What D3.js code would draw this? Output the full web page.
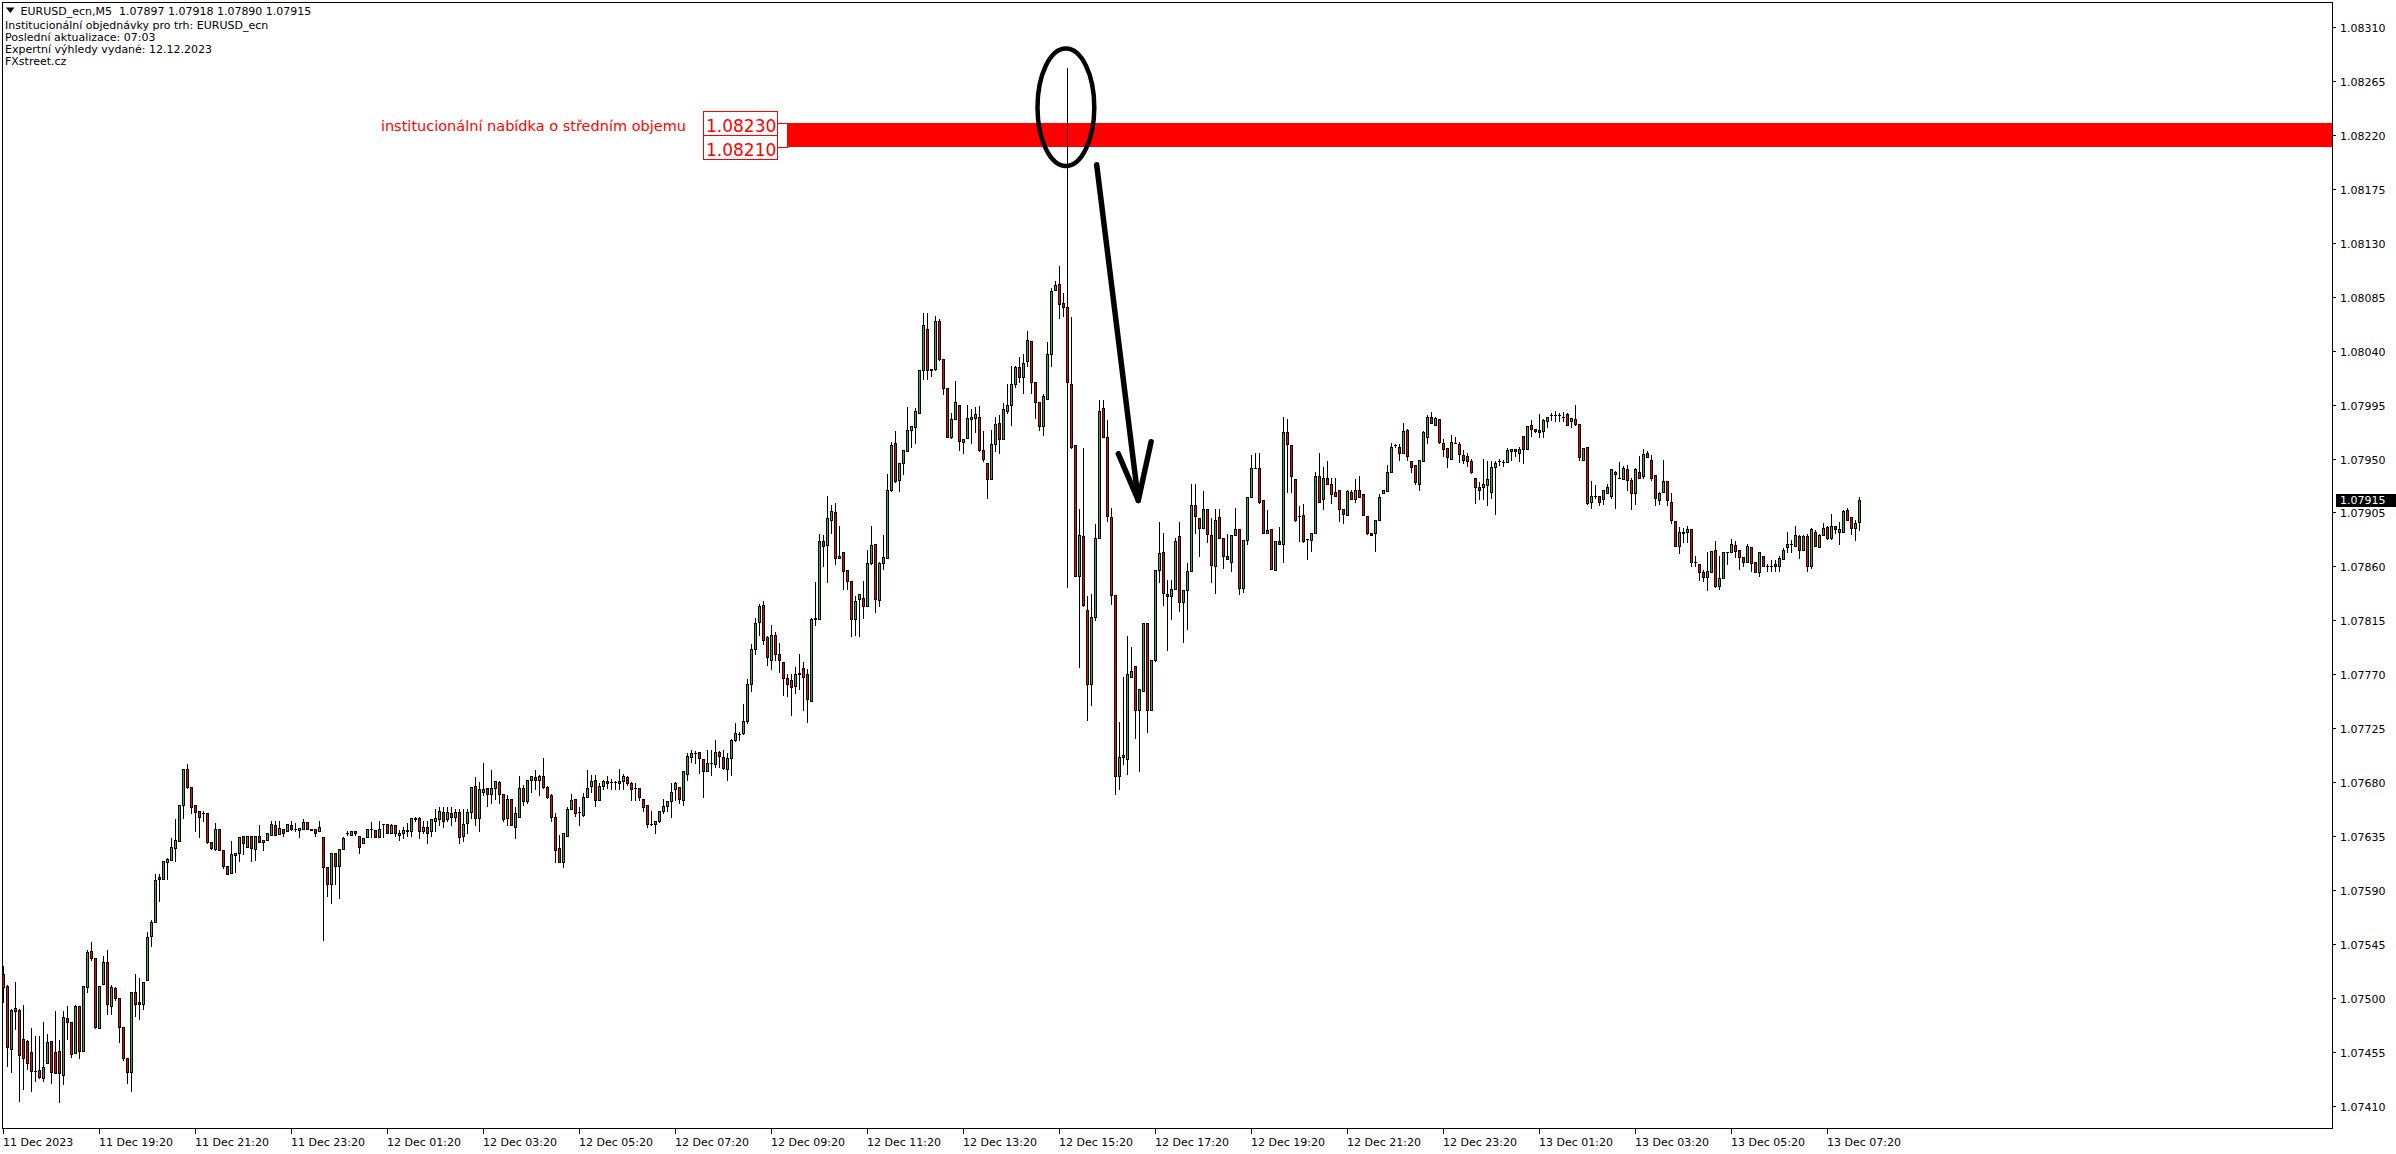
<!DOCTYPE html>
<html><head><meta charset="utf-8">
<script src="https://cdn.jsdelivr.net/npm/d3@7"></script>
<style>html,body{margin:0;padding:0;background:#fff;overflow:hidden}svg{display:block}</style>
</head><body>
<svg id="c" width="2396" height="1154"></svg>
<script>
// ---------------- DATA (EURUSD_ecn M5, 11 Dec 17:20 .. 13 Dec 08:00) ----------------
const opens = [
1.07520,1.07510,1.07457,1.07492,1.07490,1.07466,1.07464,1.07455,1.07439,1.07440,
1.07433,1.07446,1.07464,1.07455,1.07456,1.07436,1.07483,1.07480,1.07454,1.07493,
1.07456,1.07509,1.07539,1.07533,1.07475,1.07512,1.07530,1.07493,1.07508,1.07500,
1.07476,1.07450,1.07438,1.07505,1.07497,1.07495,1.07515,1.07552,1.07563,1.07601,
1.07599,1.07613,1.07615,1.07625,1.07631,1.07661,1.07691,1.07676,1.07661,1.07656,
1.07654,1.07654,1.07630,1.07624,1.07641,1.07623,1.07610,1.07604,1.07619,1.07621,
1.07635,1.07626,1.07635,1.07624,1.07635,1.07630,1.07632,1.07636,1.07644,1.07637,
1.07641,1.07639,1.07644,1.07641,1.07640,1.07641,1.07647,1.07641,1.07641,1.07639,
1.07634,1.07609,1.07595,1.07621,1.07610,1.07624,1.07638,1.07636,1.07639,1.07635,
1.07629,1.07634,1.07641,
1.07640,1.07634,1.07645,1.07645,1.07638,1.07644,1.07636,1.07638,1.07639,1.07639,
1.07650,1.07650,1.07639,1.07643,1.07639,1.07648,1.07649,1.07655,1.07649,1.07654,
1.07651,1.07655,1.07635,1.07646,1.07655,1.07677,1.07650,1.07672,1.07675,1.07670,
1.07675,1.07680,1.07670,1.07650,1.07666,1.07643,1.07651,1.07675,1.07664,1.07682,
1.07684,1.07682,1.07685,1.07676,1.07669,1.07651,1.07625,1.07613,1.07635,1.07658,
1.07666,1.07655,1.07653,1.07668,1.07677,1.07682,1.07665,1.07677,1.07681,1.07680,
1.07680,1.07679,1.07681,1.07684,1.07679,1.07675,1.07675,1.07666,1.07661,1.07645,
1.07645,1.07648,1.07656,1.07660,1.07664,1.07674,1.07676,1.07665,1.07687,1.07701,
1.07704,1.07705,1.07699,1.07689,1.07696,1.07695,1.07705,1.07701,1.07691,1.07700,
1.07715,1.07720,1.07721,1.07731,
1.07762,1.07791,1.07814,1.07828,1.07801,1.07782,1.07803,1.07787,1.07780,1.07767,
1.07765,1.07760,1.07770,1.07775,1.07770,1.07748,1.07816,1.07816,1.07881,1.07878,
1.07899,1.07905,1.07869,1.07872,1.07857,1.07848,1.07816,1.07833,1.07834,1.07827,
1.07863,1.07879,1.07832,1.07863,1.07867,1.07924,1.07963,1.07932,1.07946,1.07956,
1.07974,1.07976,1.07988,1.08024,1.08058,1.08024,1.08025,1.08065,1.08033,1.08009,
1.07968,1.07983,1.07995,1.07964,1.07967,1.07983,1.07984,1.07985,1.07957,1.07946,
1.07933,1.07962,1.07980,1.07966,1.07990,1.07995,1.08012,1.08026,1.08018,1.08031,
1.08048,1.08014,1.07997,1.07977,1.08000,1.08037,1.08091,1.08096,1.08080,1.08076,
1.08012,1.07961,1.07852,1.07885,1.07824,1.07762,1.07818,1.07884,1.07992,1.07968,
1.07901,1.07836,1.07685,1.07701,
1.07699,1.07768,1.07777,1.07740,1.07756,1.07813,1.07740,1.07782,1.07857,1.07872,
1.07837,1.07835,1.07841,1.07885,1.07830,1.07840,1.07856,1.07911,1.07900,1.07892,
1.07908,1.07886,1.07860,1.07901,1.07884,1.07869,1.07864,1.07886,1.07891,1.07842,
1.07882,1.07918,1.07942,1.07942,1.07915,1.07888,1.07891,1.07857,1.07881,1.07879,
1.07972,1.07961,1.07933,1.07902,1.07903,1.07883,1.07882,1.07888,1.07935,1.07916,
1.07934,1.07929,1.07922,1.07924,1.07908,1.07903,1.07922,1.07916,1.07924,1.07920,
1.07902,1.07888,1.07888,1.07899,1.07921,1.07923,1.07939,1.07961,1.07960,1.07955,
1.07974,1.07948,1.07945,1.07929,1.07948,1.07968,1.07985,1.07978,1.07983,1.07963,
1.07959,1.07950,1.07963,1.07962,1.07953,1.07952,1.07948,1.07934,1.07926,1.07926,
1.07928,1.07922,1.07943,
1.07948,1.07947,1.07947,1.07956,1.07958,1.07955,1.07969,1.07958,1.07978,1.07975,
1.07974,1.07973,1.07981,1.07986,1.07986,1.07986,1.07985,1.07987,1.07981,1.07983,
1.07979,1.07949,1.07960,1.07914,1.07919,1.07919,1.07916,1.07921,1.07919,1.07939,
1.07934,1.07933,1.07941,1.07932,1.07921,1.07939,1.07935,1.07955,1.07949,1.07936,
1.07915,1.07922,1.07931,1.07914,1.07898,1.07877,1.07889,1.07889,1.07891,1.07864,
1.07862,1.07855,1.07851,1.07855,1.07874,1.07844,1.07850,1.07872,1.07872,1.07878,
1.07874,1.07868,1.07864,1.07876,1.07864,1.07855,1.07869,1.07860,1.07860,1.07862,
1.07860,1.07866,1.07876,1.07879,1.07877,1.07885,1.07874,1.07885,1.07860,1.07889,
1.07876,1.07886,1.07893,1.07884,1.07894,1.07889,1.07889,1.07907,1.07901,1.07892,
1.07897];
const highs = [
1.07527,1.07511,1.07491,1.07513,1.07491,1.07494,1.07465,1.07475,1.07468,1.07468,
1.07480,1.07470,1.07464,1.07489,1.07465,1.07489,1.07493,1.07480,1.07494,1.07493,
1.07510,1.07540,1.07547,1.07533,1.07510,1.07535,1.07540,1.07511,1.07509,1.07500,
1.07476,1.07450,1.07505,1.07520,1.07517,1.07513,1.07555,1.07565,1.07603,1.07603,
1.07614,1.07617,1.07633,1.07649,1.07661,1.07691,1.07695,1.07676,1.07661,1.07656,
1.07656,1.07654,1.07630,1.07646,1.07641,1.07623,1.07610,1.07631,1.07621,1.07634,
1.07635,1.07635,1.07635,1.07635,1.07644,1.07632,1.07638,1.07648,1.07648,1.07648,
1.07641,1.07645,1.07648,1.07646,1.07642,1.07649,1.07647,1.07641,1.07641,1.07648,
1.07634,1.07609,1.07621,1.07621,1.07624,1.07634,1.07639,1.07639,1.07639,1.07635,
1.07633,1.07641,1.07647,
1.07640,1.07648,1.07645,1.07645,1.07645,1.07644,1.07640,1.07643,1.07646,1.07650,
1.07651,1.07651,1.07648,1.07648,1.07649,1.07658,1.07659,1.07659,1.07659,1.07659,
1.07658,1.07658,1.07658,1.07658,1.07676,1.07684,1.07680,1.07696,1.07675,1.07690,
1.07681,1.07681,1.07670,1.07669,1.07666,1.07659,1.07685,1.07678,1.07682,1.07685,
1.07690,1.07686,1.07700,1.07677,1.07670,1.07654,1.07636,1.07638,1.07659,1.07670,
1.07666,1.07659,1.07671,1.07690,1.07686,1.07686,1.07679,1.07682,1.07685,1.07683,
1.07681,1.07691,1.07687,1.07685,1.07680,1.07679,1.07675,1.07666,1.07661,1.07656,
1.07648,1.07656,1.07666,1.07664,1.07679,1.07680,1.07676,1.07689,1.07704,1.07707,
1.07706,1.07705,1.07699,1.07707,1.07707,1.07715,1.07706,1.07707,1.07704,1.07716,
1.07729,1.07722,1.07745,1.07766,
1.07795,1.07817,1.07829,1.07831,1.07802,1.07811,1.07805,1.07796,1.07780,1.07770,
1.07770,1.07776,1.07787,1.07780,1.07774,1.07817,1.07847,1.07887,1.07886,1.07919,
1.07911,1.07913,1.07894,1.07872,1.07857,1.07848,1.07835,1.07837,1.07848,1.07874,
1.07894,1.07879,1.07864,1.07886,1.07937,1.07964,1.07973,1.07946,1.07957,1.07993,
1.07977,1.07992,1.08024,1.08071,1.08071,1.08025,1.08069,1.08066,1.08033,1.08009,
1.07988,1.08015,1.07995,1.07966,1.07995,1.07991,1.07993,1.07994,1.07973,1.07946,
1.07974,1.07985,1.07986,1.07996,1.08012,1.08027,1.08027,1.08035,1.08037,1.08056,
1.08048,1.08014,1.07997,1.08004,1.08047,1.08092,1.08098,1.08111,1.08088,1.08276,
1.08068,1.07961,1.07908,1.07959,1.07835,1.07837,1.07895,1.07999,1.07999,1.07982,
1.07909,1.07836,1.07730,1.07768,
1.07802,1.07793,1.07777,1.07758,1.07813,1.07813,1.07782,1.07857,1.07897,1.07888,
1.07849,1.07849,1.07884,1.07897,1.07840,1.07863,1.07929,1.07929,1.07900,1.07923,
1.07908,1.07900,1.07908,1.07908,1.07884,1.07887,1.07886,1.07909,1.07891,1.07882,
1.07918,1.07953,1.07955,1.07955,1.07915,1.07907,1.07891,1.07881,1.07893,1.07985,
1.07983,1.07961,1.07933,1.07910,1.07912,1.07883,1.07888,1.07939,1.07955,1.07943,
1.07948,1.07934,1.07934,1.07924,1.07908,1.07924,1.07924,1.07933,1.07935,1.07920,
1.07902,1.07888,1.07899,1.07920,1.07924,1.07945,1.07963,1.07962,1.07962,1.07980,
1.07975,1.07948,1.07945,1.07949,1.07973,1.07986,1.07989,1.07985,1.07983,1.07966,
1.07959,1.07970,1.07968,1.07964,1.07957,1.07955,1.07950,1.07934,1.07930,1.07950,
1.07948,1.07948,1.07948,
1.07950,1.07949,1.07959,1.07958,1.07958,1.07960,1.07969,1.07977,1.07982,1.07975,
1.07987,1.07983,1.07985,1.07988,1.07990,1.07988,1.07989,1.07988,1.07984,1.07995,
1.07979,1.07959,1.07960,1.07931,1.07928,1.07919,1.07924,1.07929,1.07941,1.07940,
1.07947,1.07944,1.07945,1.07934,1.07942,1.07952,1.07958,1.07956,1.07953,1.07936,
1.07922,1.07949,1.07931,1.07921,1.07898,1.07893,1.07892,1.07894,1.07891,1.07869,
1.07862,1.07857,1.07872,1.07873,1.07881,1.07869,1.07872,1.07872,1.07883,1.07881,
1.07874,1.07868,1.07879,1.07876,1.07864,1.07872,1.07869,1.07862,1.07865,1.07865,
1.07869,1.07875,1.07889,1.07882,1.07894,1.07886,1.07886,1.07887,1.07892,1.07890,
1.07887,1.07896,1.07894,1.07904,1.07894,1.07897,1.07907,1.07909,1.07901,1.07899,
1.07918];
const lows = [
1.07497,1.07443,1.07438,1.07474,1.07414,1.07424,1.07441,1.07422,1.07431,1.07433,
1.07431,1.07446,1.07429,1.07437,1.07413,1.07428,1.07466,1.07451,1.07454,1.07450,
1.07456,1.07505,1.07532,1.07475,1.07475,1.07512,1.07487,1.07487,1.07498,1.07463,
1.07448,1.07429,1.07422,1.07485,1.07482,1.07491,1.07515,1.07543,1.07563,1.07581,
1.07599,1.07599,1.07615,1.07614,1.07631,1.07650,1.07675,1.07654,1.07639,1.07634,
1.07648,1.07629,1.07624,1.07623,1.07623,1.07608,1.07603,1.07604,1.07605,1.07614,
1.07620,1.07626,1.07614,1.07615,1.07630,1.07623,1.07632,1.07636,1.07636,1.07637,
1.07635,1.07639,1.07640,1.07639,1.07634,1.07641,1.07641,1.07640,1.07635,1.07639,
1.07548,1.07585,1.07579,1.07595,1.07583,1.07624,1.07636,1.07636,1.07636,1.07621,
1.07629,1.07634,1.07634,
1.07634,1.07634,1.07634,1.07638,1.07638,1.07635,1.07632,1.07633,1.07635,1.07635,
1.07648,1.07633,1.07638,1.07629,1.07635,1.07639,1.07644,1.07643,1.07648,1.07644,
1.07648,1.07629,1.07631,1.07638,1.07650,1.07644,1.07639,1.07669,1.07660,1.07663,
1.07666,1.07663,1.07648,1.07644,1.07644,1.07633,1.07651,1.07661,1.07663,1.07672,
1.07674,1.07669,1.07675,1.07667,1.07648,1.07613,1.07613,1.07609,1.07635,1.07658,
1.07652,1.07644,1.07652,1.07668,1.07672,1.07660,1.07665,1.07674,1.07675,1.07674,
1.07674,1.07674,1.07674,1.07678,1.07665,1.07665,1.07665,1.07656,1.07643,1.07644,
1.07638,1.07647,1.07654,1.07656,1.07651,1.07665,1.07663,1.07661,1.07682,1.07697,
1.07696,1.07688,1.07668,1.07689,1.07686,1.07693,1.07693,1.07691,1.07682,1.07686,
1.07714,1.07715,1.07720,1.07729,
1.07756,1.07787,1.07803,1.07795,1.07778,1.07774,1.07782,1.07772,1.07753,1.07752,
1.07736,1.07754,1.07758,1.07740,1.07730,1.07748,1.07811,1.07816,1.07860,1.07847,
1.07888,1.07862,1.07867,1.07841,1.07841,1.07802,1.07803,1.07802,1.07817,1.07827,
1.07862,1.07822,1.07827,1.07858,1.07867,1.07923,1.07930,1.07923,1.07937,1.07956,
1.07960,1.07963,1.07988,1.08016,1.08016,1.08019,1.08024,1.08032,1.08004,1.07968,
1.07967,1.07983,1.07957,1.07955,1.07967,1.07963,1.07972,1.07956,1.07948,1.07917,
1.07933,1.07956,1.07955,1.07966,1.07988,1.07978,1.08010,1.08014,1.08005,1.08027,
1.08005,1.07984,1.07974,1.07970,1.08000,1.08027,1.08091,1.08067,1.08069,1.07843,
1.07959,1.07852,1.07776,1.07827,1.07732,1.07744,1.07815,1.07884,1.07968,1.07898,
1.07829,1.07670,1.07674,1.07695,
1.07687,1.07768,1.07717,1.07689,1.07756,1.07722,1.07740,1.07781,1.07847,1.07828,
1.07790,1.07816,1.07841,1.07823,1.07797,1.07808,1.07856,1.07888,1.07869,1.07892,
1.07880,1.07847,1.07838,1.07884,1.07859,1.07866,1.07856,1.07886,1.07837,1.07839,
1.07879,1.07918,1.07942,1.07913,1.07888,1.07888,1.07858,1.07857,1.07879,1.07864,
1.07922,1.07922,1.07898,1.07881,1.07880,1.07866,1.07873,1.07888,1.07914,1.07908,
1.07929,1.07913,1.07919,1.07898,1.07896,1.07903,1.07916,1.07914,1.07918,1.07903,
1.07887,1.07886,1.07873,1.07899,1.07921,1.07923,1.07939,1.07960,1.07949,1.07955,
1.07949,1.07939,1.07929,1.07924,1.07948,1.07963,1.07980,1.07978,1.07963,1.07952,
1.07943,1.07950,1.07963,1.07947,1.07946,1.07944,1.07938,1.07913,1.07916,1.07916,
1.07911,1.07917,1.07904,
1.07945,1.07944,1.07947,1.07949,1.07952,1.07948,1.07946,1.07958,1.07969,1.07972,
1.07968,1.07968,1.07976,1.07982,1.07981,1.07981,1.07981,1.07978,1.07976,1.07978,
1.07949,1.07949,1.07912,1.07909,1.07917,1.07911,1.07912,1.07921,1.07917,1.07909,
1.07934,1.07933,1.07924,1.07908,1.07912,1.07934,1.07934,1.07951,1.07932,1.07911,
1.07912,1.07922,1.07911,1.07896,1.07877,1.07871,1.07880,1.07880,1.07860,1.07860,
1.07849,1.07848,1.07840,1.07855,1.07843,1.07841,1.07850,1.07862,1.07872,1.07868,
1.07858,1.07860,1.07864,1.07856,1.07855,1.07852,1.07860,1.07856,1.07856,1.07856,
1.07856,1.07866,1.07872,1.07872,1.07877,1.07867,1.07874,1.07856,1.07859,1.07877,
1.07876,1.07886,1.07883,1.07883,1.07888,1.07879,1.07889,1.07899,1.07887,1.07882,
1.07890];
const closes = [
1.07509,1.07459,1.07490,1.07489,1.07452,1.07450,1.07446,1.07439,1.07439,1.07434,
1.07442,1.07463,1.07438,1.07437,1.07437,1.07484,1.07480,1.07453,1.07493,1.07456,
1.07510,1.07538,1.07533,1.07476,1.07510,1.07530,1.07495,1.07509,1.07500,1.07476,
1.07450,1.07438,1.07505,1.07495,1.07495,1.07513,1.07551,1.07563,1.07598,1.07599,
1.07614,1.07616,1.07626,1.07632,1.07661,1.07691,1.07676,1.07659,1.07655,1.07651,
1.07654,1.07630,1.07625,1.07641,1.07623,1.07610,1.07603,1.07620,1.07621,1.07634,
1.07629,1.07635,1.07625,1.07635,1.07630,1.07632,1.07638,1.07645,1.07636,1.07642,
1.07638,1.07645,1.07641,1.07641,1.07642,1.07647,1.07641,1.07640,1.07638,1.07643,
1.07609,1.07595,1.07621,1.07610,1.07624,1.07633,1.07638,1.07639,1.07638,1.07626,
1.07633,1.07641,1.07641,
1.07634,1.07641,1.07645,1.07638,1.07644,1.07638,1.07638,1.07640,1.07640,1.07650,
1.07649,1.07639,1.07643,1.07638,1.07649,1.07650,1.07656,1.07648,1.07655,1.07651,
1.07655,1.07634,1.07645,1.07655,1.07676,1.07650,1.07674,1.07674,1.07670,1.07675,
1.07681,1.07670,1.07649,1.07666,1.07644,1.07654,1.07675,1.07664,1.07682,1.07685,
1.07682,1.07685,1.07676,1.07668,1.07651,1.07623,1.07613,1.07638,1.07658,1.07665,
1.07654,1.07655,1.07668,1.07675,1.07681,1.07665,1.07677,1.07681,1.07679,1.07680,
1.07680,1.07681,1.07685,1.07679,1.07674,1.07675,1.07668,1.07659,1.07645,1.07645,
1.07648,1.07656,1.07660,1.07664,1.07672,1.07679,1.07666,1.07689,1.07702,1.07704,
1.07704,1.07700,1.07689,1.07696,1.07696,1.07705,1.07702,1.07692,1.07700,1.07715,
1.07721,1.07720,1.07731,1.07762,
1.07791,1.07813,1.07827,1.07799,1.07784,1.07803,1.07787,1.07782,1.07767,1.07762,
1.07759,1.07770,1.07771,1.07768,1.07749,1.07816,1.07817,1.07881,1.07877,1.07900,
1.07906,1.07867,1.07867,1.07856,1.07848,1.07816,1.07831,1.07837,1.07827,1.07863,
1.07878,1.07833,1.07863,1.07868,1.07924,1.07961,1.07931,1.07946,1.07957,1.07974,
1.07977,1.07990,1.08024,1.08061,1.08024,1.08025,1.08065,1.08033,1.08009,1.07968,
1.07983,1.07997,1.07965,1.07966,1.07984,1.07985,1.07987,1.07957,1.07950,1.07933,
1.07962,1.07979,1.07966,1.07991,1.07995,1.08012,1.08026,1.08018,1.08030,1.08049,
1.08014,1.07997,1.07977,1.08002,1.08037,1.08090,1.08095,1.08079,1.08076,1.08014,
1.07960,1.07852,1.07886,1.07828,1.07762,1.07818,1.07884,1.07990,1.07968,1.07902,
1.07836,1.07685,1.07701,1.07703,
1.07770,1.07773,1.07740,1.07758,1.07813,1.07740,1.07782,1.07857,1.07871,1.07838,
1.07835,1.07841,1.07881,1.07830,1.07840,1.07856,1.07911,1.07902,1.07892,1.07908,
1.07887,1.07861,1.07899,1.07884,1.07869,1.07866,1.07886,1.07891,1.07842,1.07882,
1.07918,1.07942,1.07942,1.07914,1.07888,1.07890,1.07858,1.07881,1.07879,1.07972,
1.07962,1.07935,1.07899,1.07902,1.07881,1.07883,1.07888,1.07935,1.07914,1.07934,
1.07929,1.07920,1.07919,1.07908,1.07904,1.07923,1.07916,1.07924,1.07918,1.07903,
1.07888,1.07886,1.07899,1.07918,1.07924,1.07939,1.07960,1.07961,1.07955,1.07973,
1.07952,1.07943,1.07930,1.07949,1.07972,1.07985,1.07980,1.07984,1.07964,1.07958,
1.07951,1.07964,1.07963,1.07954,1.07949,1.07948,1.07939,1.07926,1.07924,1.07929,
1.07933,1.07943,1.07946,
1.07948,1.07947,1.07957,1.07958,1.07956,1.07958,1.07958,1.07977,1.07975,1.07973,
1.07972,1.07982,1.07985,1.07986,1.07986,1.07986,1.07985,1.07978,1.07984,1.07979,
1.07951,1.07959,1.07913,1.07919,1.07919,1.07914,1.07924,1.07926,1.07941,1.07937,
1.07934,1.07942,1.07932,1.07921,1.07941,1.07934,1.07954,1.07951,1.07934,1.07917,
1.07921,1.07931,1.07915,1.07899,1.07877,1.07889,1.07888,1.07891,1.07864,1.07864,
1.07855,1.07851,1.07856,1.07873,1.07844,1.07850,1.07872,1.07872,1.07879,1.07873,
1.07868,1.07864,1.07877,1.07863,1.07855,1.07872,1.07860,1.07860,1.07860,1.07860,
1.07867,1.07874,1.07879,1.07879,1.07886,1.07874,1.07885,1.07860,1.07891,1.07877,
1.07886,1.07892,1.07884,1.07894,1.07891,1.07891,1.07906,1.07899,1.07892,1.07896,
1.07915];

// x-axis labels, one every 24 bars (2 hours)
const timeLabels = ["11 Dec 2023","11 Dec 19:20","11 Dec 21:20","11 Dec 23:20","12 Dec 01:20",
  "12 Dec 03:20","12 Dec 05:20","12 Dec 07:20","12 Dec 09:20","12 Dec 11:20","12 Dec 13:20",
  "12 Dec 15:20","12 Dec 17:20","12 Dec 19:20","12 Dec 21:20","12 Dec 23:20","13 Dec 01:20",
  "13 Dec 03:20","13 Dec 05:20","13 Dec 07:20"];
const barsPerLabel = 24;
// y-axis tick labels
const priceTicks = [1.07410,1.07455,1.07500,1.07545,1.07590,1.07635,1.07680,1.07725,1.07770,
  1.07815,1.07860,1.07905,1.07950,1.07995,1.08040,1.08085,1.08130,1.08175,1.08220,1.08265,1.08310];
const priceMin = 1.07410, priceMax = 1.08310;

const headerLines = ["EURUSD_ecn,M5  1.07897 1.07918 1.07890 1.07915",
  "Institucionální objednávky pro trh: EURUSD_ecn",
  "Poslední aktualizace: 07:03",
  "Expertní výhledy vydané: 12.12.2023",
  "FXstreet.cz"];
const zoneTop = 1.08230, zoneBottom = 1.08210, zoneStartBar = 195.9;
const zoneLabel = "institucionální nabídka o středním objemu";
// hand-drawn annotations, in (bar, price) units
const ellipseNote = {bar: 265.6, price: 1.08243, halfBars: 7.1, halfPrice: 0.00049};
const arrowNote = {from: [273.3, 1.08195], tip: [283.7, 1.07915], left: [278.7, 1.07954], right: [286.9, 1.07964]};

// ---------------- LAYOUT ----------------
const FONT = "'DejaVu Sans', Verdana, sans-serif";
const frame = {left: 2, top: 2, right: 2332, bottom: 1128};
const bull = "#2bb52b", bear = "#ff0000";

const svg = d3.select("#c");
svg.append("rect").attr("width", 2396).attr("height", 1154).attr("fill", "#fff");

const n = closes.length;
const x = d3.scaleLinear().domain([0, n - 1]).range([3.5, 3.5 + 4 * (n - 1)]);
const y = d3.scaleLinear().domain([priceMin, priceMax]).range([1105.8, 27]);

const g = svg.append("g").attr("shape-rendering", "crispEdges");

// zone band (behind candles)
const yz1 = Math.round(y(zoneTop)), yz2 = Math.round(y(zoneBottom));
const zx = Math.round(x(zoneStartBar));
g.append("rect").attr("x", zx).attr("y", yz1).attr("width", frame.right - zx).attr("height", yz2 - yz1).attr("fill", "#ff0000");

// candles
const data = d3.range(n).map(i => ({i, o: opens[i], h: Math.max(highs[i], opens[i], closes[i]), l: Math.min(lows[i], opens[i], closes[i]), c: closes[i]}));
const cg = g.append("g");
data.forEach(d => {
  const cx = x(d.i);
  const yh = Math.round(y(d.h)), yl = Math.round(y(d.l));
  const yo = Math.round(y(d.o)), yc = Math.round(y(d.c));
  cg.append("line").attr("x1", cx).attr("x2", cx).attr("y1", yh).attr("y2", yl + 1)
    .attr("stroke", "#000").attr("stroke-width", 1);
  const top = Math.min(yo, yc), bot = Math.max(yo, yc);
  if (bot - top < 1) {
    cg.append("line").attr("x1", cx - 1.5).attr("x2", cx + 1.5).attr("y1", top + 0.5).attr("y2", top + 0.5)
      .attr("stroke", "#000").attr("stroke-width", 1);
  } else {
    cg.append("rect").attr("x", cx - 1).attr("y", top + 0.5).attr("width", 2).attr("height", bot - top)
      .attr("fill", d.c >= d.o ? bull : bear).attr("stroke", "#000").attr("stroke-width", 1);
  }
});

// frame
g.append("rect").attr("x", frame.left + 0.5).attr("y", frame.top + 0.5)
  .attr("width", frame.right - frame.left).attr("height", frame.bottom - frame.top)
  .attr("fill", "none").attr("stroke", "#000").attr("stroke-width", 1);

// price axis
const ya = svg.append("g");
priceTicks.forEach(p => {
  const yy = Math.round(y(p)) + 0.5;
  ya.append("line").attr("x1", frame.right + 1).attr("x2", frame.right + 4).attr("y1", yy).attr("y2", yy)
    .attr("stroke", "#000").attr("shape-rendering", "crispEdges");
  ya.append("text").attr("x", frame.right + 8).attr("y", yy + 4).text(p.toFixed(5))
    .attr("font-family", FONT).attr("font-size", 11).attr("fill", "#000");
});
// current price label
const last = closes[n - 1];
const yl = Math.round(y(last));
ya.append("rect").attr("x", frame.right + 4).attr("y", yl - 6).attr("width", 2396 - frame.right - 4).attr("height", 13).attr("fill", "#000");
ya.append("text").attr("x", frame.right + 8).attr("y", yl + 4).text(last.toFixed(5))
  .attr("font-family", FONT).attr("font-size", 11).attr("fill", "#fff");

// time axis
const xa = svg.append("g");
timeLabels.forEach((t, k) => {
  const xx = x(k * barsPerLabel);
  xa.append("line").attr("x1", xx).attr("x2", xx).attr("y1", frame.bottom + 1).attr("y2", frame.bottom + 6)
    .attr("stroke", "#000").attr("shape-rendering", "crispEdges");
  xa.append("text").attr("x", xx - 0.5).attr("y", 1146).text(t)
    .attr("font-family", FONT).attr("font-size", 11).attr("fill", "#000");
});

// header
const hg = svg.append("g").attr("font-family", FONT).attr("font-size", 11).attr("fill", "#000");
hg.append("path").attr("d", "M6,7.5 L14.5,7.5 L10.25,13 Z").attr("fill", "#000");
const headerY = [15, 28.5, 40.7, 52.9, 65.1];
headerLines.forEach((t, k) => {
  hg.append("text").attr("x", k === 0 ? 20.5 : 5).attr("y", headerY[k]).attr("xml:space", "preserve")
    .style("white-space", "pre").text(t);
});

// zone labels
const boxRight = zx - 10, boxW = 74, boxLeft = boxRight - boxW;
const lg = svg.append("g").attr("shape-rendering", "crispEdges");
lg.append("rect").attr("x", boxLeft + 0.5).attr("y", yz1 - 12 + 0.5).attr("width", boxW).attr("height", 24).attr("fill", "#fff").attr("stroke", "#ff0000");
lg.append("rect").attr("x", boxLeft + 0.5).attr("y", yz1 + 12 + 0.5).attr("width", boxW).attr("height", 24).attr("fill", "#fff").attr("stroke", "#ff0000");
lg.append("path").attr("d", `M${boxRight + 0.5},${yz1 + 0.5} H${zx + 0.5} V${yz2 + 0.5} H${boxRight + 0.5}`)
  .attr("fill", "none").attr("stroke", "#ff0000");
svg.append("text").attr("x", boxLeft + 3).attr("y", yz1 + 8.5).text(zoneTop.toFixed(5))
  .attr("font-family", FONT).attr("font-size", 17).attr("fill", "#ff0000");
svg.append("text").attr("x", boxLeft + 3).attr("y", yz2 + 8.5).text(zoneBottom.toFixed(5))
  .attr("font-family", FONT).attr("font-size", 17).attr("fill", "#ff0000");
svg.append("text").attr("x", boxLeft - 17).attr("y", yz1 + 8).attr("text-anchor", "end").text(zoneLabel)
  .attr("font-family", FONT).attr("font-size", 14.5).attr("fill", "#ff0000");

// annotations: ellipse + arrow
const ag = svg.append("g").attr("fill", "none").attr("stroke", "#000").attr("stroke-linecap", "round").attr("stroke-linejoin", "round");
const ex = x(ellipseNote.bar), ey = y(ellipseNote.price);
ag.append("ellipse").attr("cx", ex).attr("cy", ey)
  .attr("rx", x(ellipseNote.bar + ellipseNote.halfBars) - ex)
  .attr("ry", y(ellipseNote.price - ellipseNote.halfPrice) - ey)
  .attr("stroke-width", 4.5);
const P = a => [x(a[0]), y(a[1])];
const line = d3.line();
ag.append("path").attr("d", line([P(arrowNote.from), P(arrowNote.tip)])).attr("stroke-width", 5.5);
ag.append("path").attr("d", line([P(arrowNote.left), P(arrowNote.tip), P(arrowNote.right)])).attr("stroke-width", 5.5);
</script>
</body></html>
